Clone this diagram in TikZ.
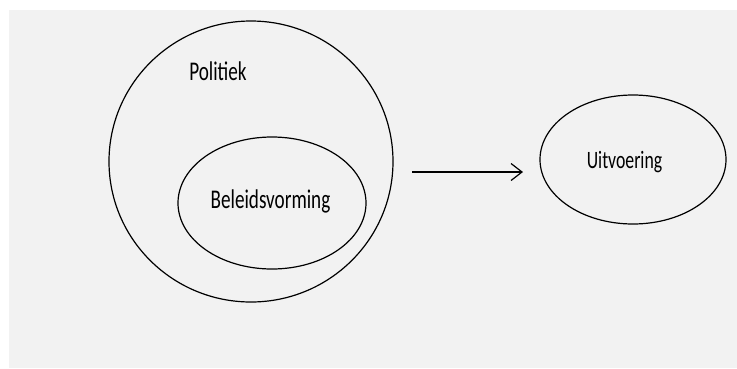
\documentclass[tikz,border=0pt]{standalone}
\usepackage{fontspec}
\usepackage{tikz}
\usetikzlibrary{shapes.geometric,arrows.meta}
\newfontfamily\calib{Carlito}

\begin{document}
\begin{tikzpicture}[x=1pt,y=-1pt,
  blob/.style={draw, ellipse, line width=1.2pt, inner sep=0pt},
  word/.style={font=\calib\fontsize{27}{32}\selectfont, xscale=0.71, inner sep=0pt, anchor=base},
  flow/.style={line width=1.2pt, -{Straight Barb[length=11pt,width=17pt,line width=1.2pt]}}]
% canvas
\useasboundingbox (0,0) rectangle (737,368);
\fill[white] (0,0) rectangle (737,368);
\fill[gray!10] (9,10) rectangle (737,368);
% ellipses
\node[blob, minimum width=284, minimum height=281] (pol) at (251,161.5) {};
\node[blob, minimum width=188, minimum height=132] (bel) at (272,203) {};
\node[blob, minimum width=186, minimum height=129] (uit) at (633,159.5) {};
% labels
\node[word] (pol-t) at (218,80) {Politiek};
\node[word] (bel-t) at (270.5,208) {Beleidsvorming};
\node[word, font=\calib\fontsize{25}{30}\selectfont] (uit-t) at (624.5,168) {Uitvoering};
% arrow
\coordinate (arr-s) at (412,172);
\coordinate (arr-e) at (523,172);
\draw[flow] (arr-s) -- (arr-e);
\end{tikzpicture}
\end{document}
